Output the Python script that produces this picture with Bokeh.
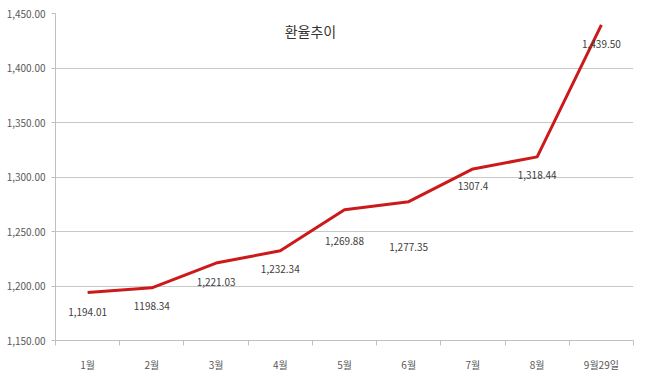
from bokeh.plotting import figure
from bokeh.models import Range1d, FixedTicker, NumeralTickFormatter, Label, ColumnDataSource
from bokeh.embed import file_html
from bokeh.resources import INLINE

categories = ["1월", "2월", "3월", "4월", "5월", "6월", "7월", "8월", "9월29일"]
rates = [1194.01, 1198.34, 1221.03, 1232.34, 1269.88, 1277.35, 1307.4, 1318.44, 1439.50]
rate_labels = ["1,194.01", "1198.34", "1,221.03", "1,232.34", "1,269.88",
               "1,277.35", "1307.4", "1,318.44", "1,439.50"]
y_ticks = [1150, 1200, 1250, 1300, 1350, 1400, 1450]
title_text = "환율추이"

# label vertical offsets in screen pixels (style)
label_offsets = [19, 18, 19, 18, 31, 45, 17, 18, 19]

FONT = "Noto Sans CJK KR"
xs = [i + 0.5 for i in range(len(categories))]

p = figure(width=647, height=374, output_backend="svg", toolbar_location=None,
           x_range=Range1d(0, len(categories)), y_range=Range1d(1150, 1450),
           min_border_left=55, min_border_right=14, min_border_top=13, min_border_bottom=33)
p.outline_line_color = None
p.background_fill_color = "white"

src = ColumnDataSource(dict(x=xs, y=rates, lab=rate_labels, off=label_offsets))
p.line("x", "y", source=src, line_color="#cc1a1a", line_width=3)
p.text("x", "y", text="lab", source=src, y_offset="off", text_align="center",
       text_baseline="middle", text_font_size="10px", text_color="#404040",
       text_font={"value": FONT})

# x axis
xa = p.xaxis[0]
xa.ticker = FixedTicker(ticks=xs, minor_ticks=list(range(len(categories) + 1)))
xa.major_label_overrides = {x: c for x, c in zip(xs, categories)}
xa.major_tick_out = 0
xa.major_tick_in = 0
xa.minor_tick_out = 5
xa.minor_tick_in = 0
xa.minor_tick_line_color = "#bfbfbf"
xa.axis_line_color = "#bfbfbf"
xa.major_label_standoff = 11
xa.major_label_text_font = FONT
xa.major_label_text_font_size = "10px"
xa.major_label_text_color = "#595959"

# y axis
ya = p.yaxis[0]
ya.ticker = FixedTicker(ticks=y_ticks)
ya.formatter = NumeralTickFormatter(format="0,0.00")
ya.major_tick_out = 4
ya.major_tick_in = 0
ya.minor_tick_line_color = None
ya.major_tick_line_color = "#bfbfbf"
ya.axis_line_color = "#bfbfbf"
ya.major_label_standoff = 6
ya.major_label_text_font = FONT
ya.major_label_text_font_size = "10px"
ya.major_label_text_color = "#595959"

p.xgrid.grid_line_color = None
p.ygrid.grid_line_color = "#c8c8c8"
p.ygrid.ticker = FixedTicker(ticks=y_ticks)

p.add_layout(Label(x=3.97, y=1434, text=title_text, text_align="center",
                   text_baseline="middle", text_font=FONT, text_font_size="14px",
                   text_color="#333333"))

open("out.html", "w").write(file_html(p, INLINE))
